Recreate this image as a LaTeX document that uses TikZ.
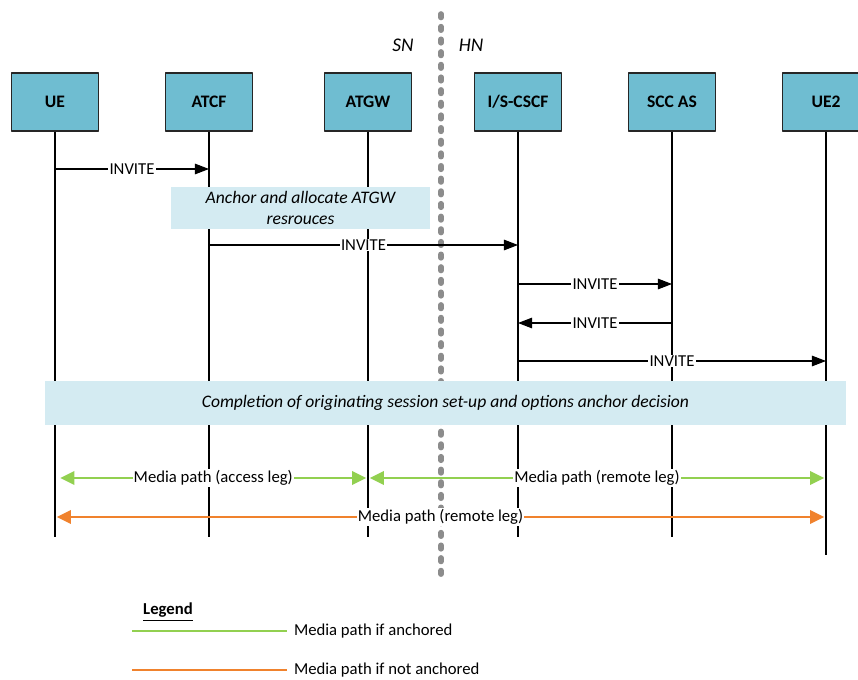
\documentclass[tikz,border=0pt]{standalone}
\usepackage{fontspec}
\setmainfont{Carlito}
\usetikzlibrary{arrows.meta}
\definecolor{boxblue}{HTML}{6FBDD1}
\definecolor{noteblue}{HTML}{D4EBF2}
\definecolor{mediagreen}{HTML}{92D050}
\definecolor{mediaorange}{HTML}{F0822D}
\definecolor{bordergray}{HTML}{8C8C8C}
\tikzset{
	entity/.style={draw=black!85, fill=boxblue, line width=0.8pt, minimum width=1.74cm, minimum height=1.16cm, font=\bfseries},
	lifeline/.style={line width=0.6pt},
	msg/.style={line width=0.6pt, -{Triangle[length=8pt,width=6pt]}},
	note/.style={fill=noteblue, font=\itshape, align=center, inner sep=0pt},
	lbl/.style={fill=white, inner sep=0.6pt},
	greenleg/.style={mediagreen, line width=1.6pt, {Triangle[length=8pt,width=7.5pt]}-{Triangle[length=8pt,width=7.5pt]}},
	orangeleg/.style={mediaorange, line width=1.6pt, {Triangle[length=8pt,width=7.5pt]}-{Triangle[length=8pt,width=7.5pt]}}
}
\begin{document}
\begin{tikzpicture}[x=0.02cm, y=-0.02cm, font=\fontsize{9.5}{11}\selectfont, line join=round]
		\useasboundingbox (0,0) rectangle (858,679);
		% entities
		\node[entity] (ue) at (55,102) {UE};
		\node[entity] (atcf) at (209,102) {ATCF};
		\node[entity] (atgw) at (368,102) {ATGW};
		\node[entity] (cscf) at (518,102) {I/S-CSCF};
		\node[entity] (sccas) at (672,102) {SCC AS};
		\node[entity] (ue2) at (826,102) {UE2};
		% lifelines
		\foreach \n in {ue,atcf,atgw,cscf,sccas}
			\draw[lifeline] (\n.south) -- (\n.south |- 0,537);
		\draw[lifeline] (ue2.south) -- (ue2.south |- 0,555);
		% SN / HN border
		\draw[bordergray, line width=3.2pt, dash pattern=on 2pt off 5.2pt, line cap=round] (441,14) coordinate (sep-t) -- (441,582) coordinate (sep-b);
		\node[font=\fontsize{11}{13}\selectfont\itshape] (sn) at (403,45) {SN};
		\node[font=\fontsize{11}{13}\selectfont\itshape] (hn) at (471,45) {HN};
		% notes
		\node[note, minimum width=5.18cm, minimum height=0.84cm] (anchor) at (300.5,208) {Anchor and allocate ATGW\\resrouces};
		\node[note, minimum width=16.02cm, minimum height=0.88cm] (done) at (445.5,403) {Completion of originating session set-up and options anchor decision};
		% messages
		\draw[msg] (ue |- 0,169) -- node[lbl] {INVITE} (atcf |- 0,169);
		\draw[msg] (atcf |- 0,245) -- node[lbl] {INVITE} (cscf |- 0,245);
		\draw[msg] (cscf |- 0,284) -- node[lbl] {INVITE} (sccas |- 0,284);
		\draw[msg] (sccas |- 0,323) -- node[lbl] {INVITE} (cscf |- 0,323);
		\draw[msg] (cscf |- 0,361) -- node[lbl] {INVITE} (ue2 |- 0,361);
		% media paths
		\draw[greenleg] ([xshift=3pt]ue |- 0,478) -- node[lbl, text=black] {Media path (access leg)} ([xshift=-1pt]atgw |- 0,478);
		\draw[greenleg] ([xshift=1pt]atgw |- 0,478) -- node[lbl, text=black] {Media path (remote leg)} ([xshift=-1pt]ue2 |- 0,478);
		\draw[orangeleg] ([xshift=1pt]ue |- 0,517) -- node[lbl, text=black] {Media path (remote leg)} ([xshift=-1pt]ue2 |- 0,517);
		% legend
		\node[font=\fontsize{9.5}{11}\selectfont\bfseries] (legend) at (168,612) {\underline{Legend}};
		\coordinate (lg-a) at (132,631);
		\coordinate (lg-b) at (287,631);
		\coordinate (lo-a) at (132,670);
		\coordinate (lo-b) at (287,670);
		\draw[mediagreen, line width=1.3pt] (lg-a) -- (lg-b) node[right, text=black] {Media path if anchored};
		\draw[mediaorange, line width=1.3pt] (lo-a) -- (lo-b) node[right, text=black] {Media path if not anchored};
\end{tikzpicture}
\end{document}
